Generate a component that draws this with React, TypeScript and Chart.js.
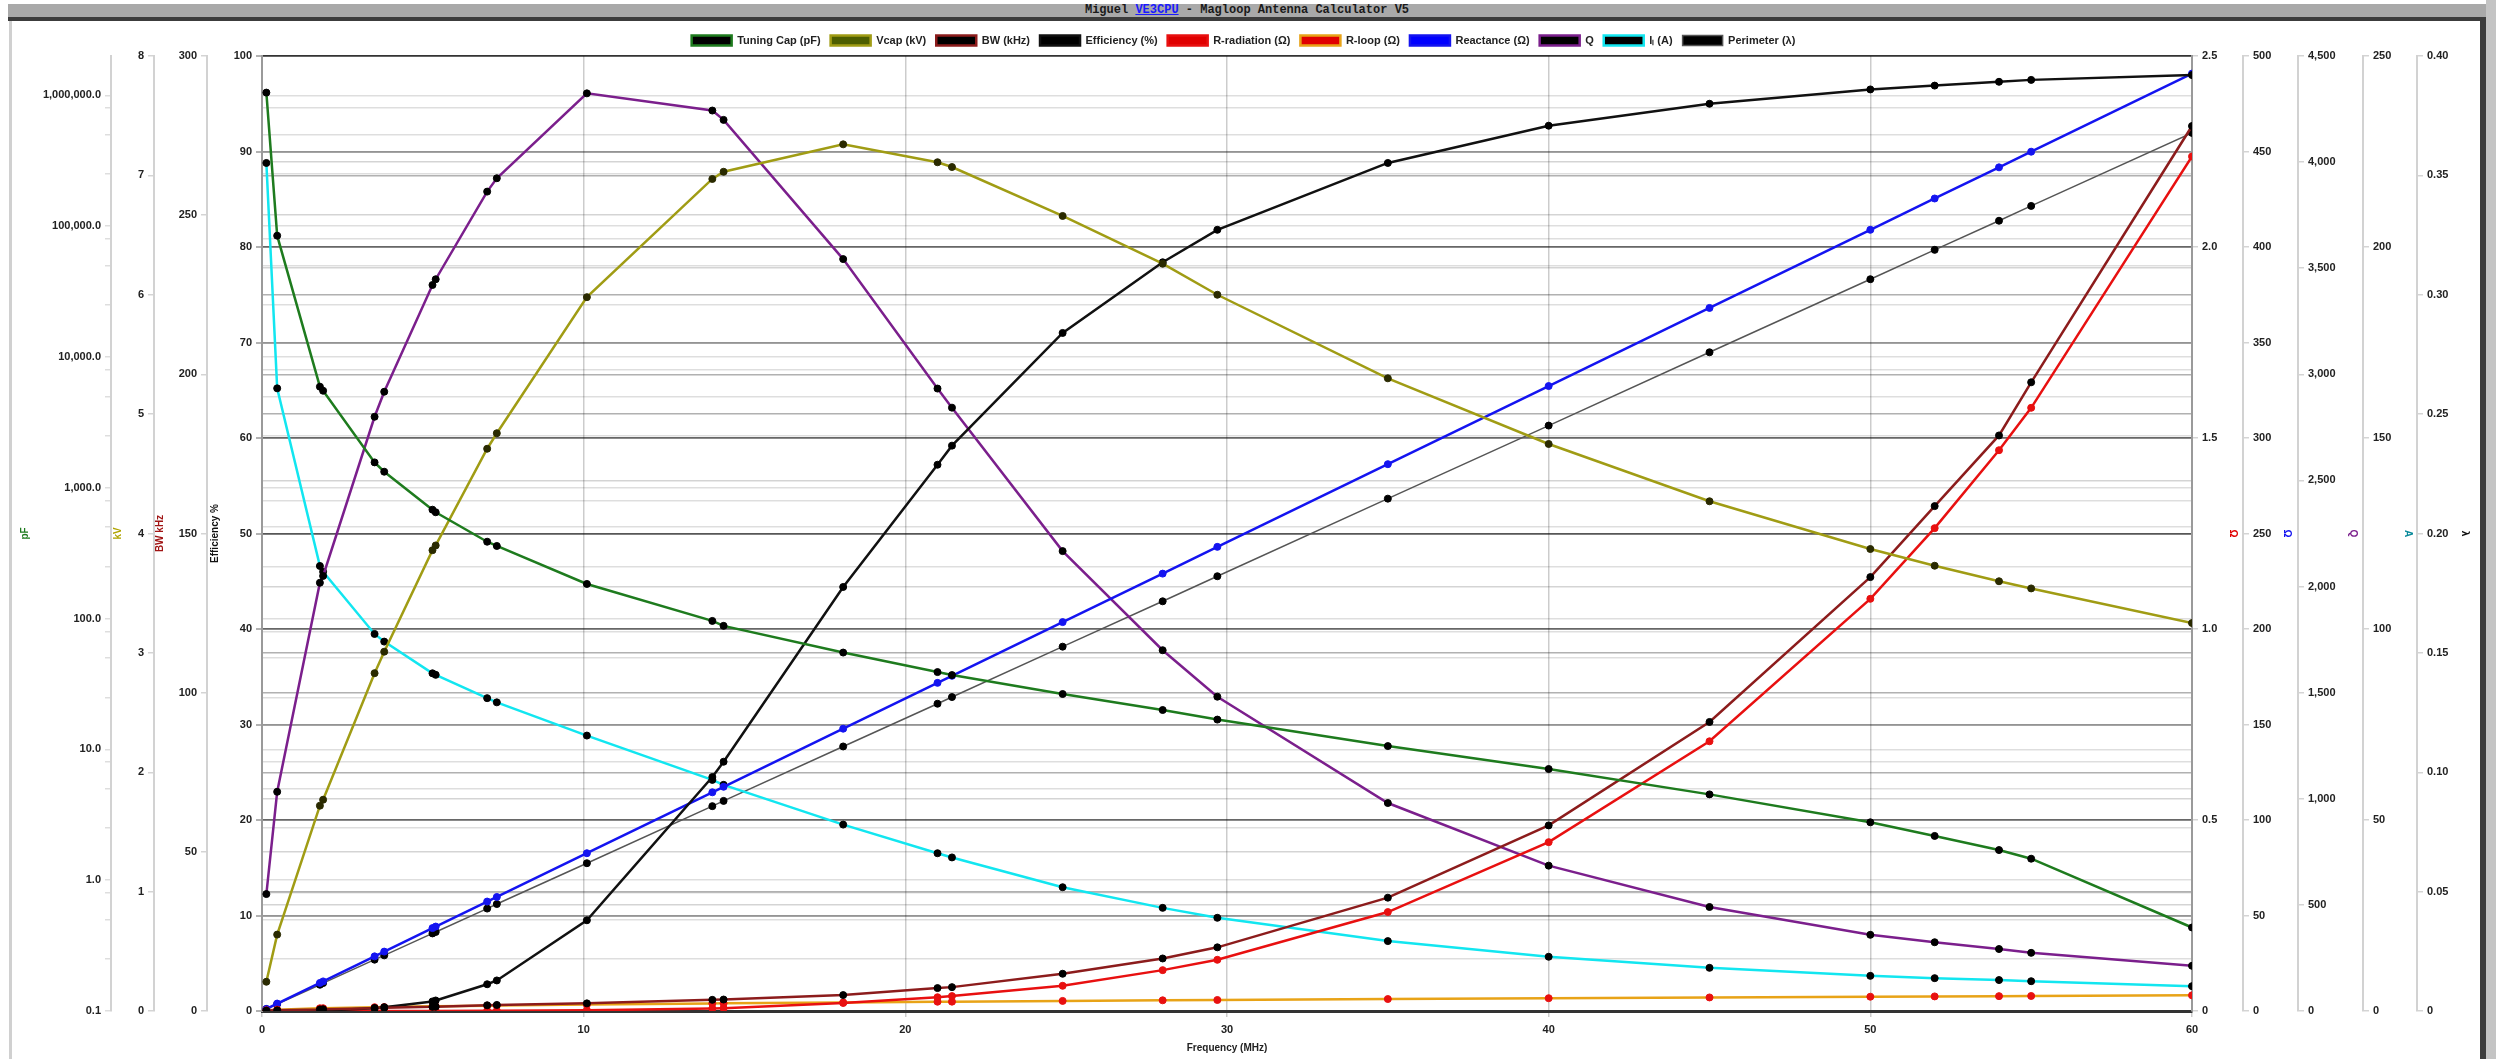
import React, { useEffect, useRef } from 'react';
import { Chart, registerables } from 'chart.js';

Chart.register(...registerables);

const frequencies = [0.1357, 0.472, 1.8, 1.9, 3.5, 3.8, 5.3, 5.4, 7.0, 7.3, 10.1, 14.0, 14.35, 18.068, 21.0, 21.45, 24.89, 28.0, 29.7, 35, 40, 45, 50, 52, 54, 55, 60];

const tuningCapPf = [1050000, 84600, 5930, 5520, 1564, 1327, 680, 650, 387, 359, 184, 96, 88, 55, 39, 37, 26.5, 20, 16.9, 10.6, 7.08, 4.53, 2.77, 2.18, 1.7, 1.46, 0.435];
const vcapKv = [0.245, 0.64, 1.72, 1.77, 2.83, 3.01, 3.86, 3.9, 4.71, 4.84, 5.98, 6.97, 7.03, 7.26, 7.11, 7.07, 6.66, 6.26, 6.0, 5.3, 4.75, 4.27, 3.87, 3.73, 3.6, 3.54, 3.25];
const bwKhz = [0.1, 0.2, 0.5, 0.55, 0.9, 1.0, 1.3, 1.35, 1.8, 1.9, 2.4, 3.5, 3.6, 5.0, 7.2, 7.5, 11.7, 16.5, 20.0, 35.6, 58.3, 90.8, 136.3, 158.6, 180.8, 197.5, 278];
const efficiencyPct = [0, 0.003, 0.03, 0.04, 0.3, 0.4, 1.0, 1.1, 2.8, 3.2, 9.5, 24.5, 26.1, 44.4, 57.2, 59.2, 71.0, 78.4, 81.8, 88.8, 92.7, 95.0, 96.5, 96.9, 97.3, 97.5, 98.0];
const rRadiation = [0, 0, 0.000002, 0.000002, 0.00003, 0.00004, 0.00014, 0.00015, 0.0004, 0.0005, 0.0018, 0.0066, 0.0073, 0.021, 0.036, 0.039, 0.066, 0.107, 0.134, 0.259, 0.442, 0.706, 1.079, 1.264, 1.468, 1.579, 2.237];
const rLoop = [0.002, 0.0036, 0.0071, 0.0073, 0.0099, 0.0103, 0.0122, 0.0123, 0.014, 0.0143, 0.0168, 0.0198, 0.02, 0.0225, 0.0243, 0.0245, 0.0264, 0.028, 0.0288, 0.0313, 0.0335, 0.0355, 0.0374, 0.0382, 0.0389, 0.0393, 0.041];
const reactance = [1.1, 3.9, 14.7, 15.5, 28.6, 31.1, 43.4, 44.2, 57.3, 59.7, 82.6, 114.5, 117.4, 147.8, 171.8, 175.5, 203.6, 229.0, 243.0, 286.3, 327.2, 368.1, 409.0, 425.4, 441.7, 449.9, 490.8];
const qFactor = [551, 1033, 2018, 2050, 2800, 2918, 3421, 3448, 3861, 3924, 4324, 4243, 4199, 3543, 2933, 2843, 2167, 1700, 1481, 980, 685, 490, 359, 324, 292, 274, 213];
const loopCurrent = [222, 163, 116.5, 115, 98.7, 96.7, 88.4, 88, 81.9, 80.8, 72.1, 60.5, 59.2, 48.8, 41.3, 40.2, 32.4, 27.0, 24.4, 18.3, 14.2, 11.3, 9.2, 8.6, 8.1, 7.8, 6.5];
const perimeterLambda = [0.0008, 0.0029, 0.011, 0.0117, 0.0215, 0.0233, 0.0325, 0.0331, 0.0429, 0.0448, 0.0619, 0.0858, 0.088, 0.1108, 0.1287, 0.1315, 0.1526, 0.1716, 0.1821, 0.2146, 0.2452, 0.2759, 0.3065, 0.3188, 0.331, 0.3372, 0.3678];

const capDecades = [0.1, 1, 10, 100, 1000, 10000, 100000, 1000000];
const capMinorFactors = [2.5, 5, 8];
const capMax = 2000000;

const FONT = "'Liberation Sans', Arial, sans-serif";

const isDecade = (v: number) => Math.abs(Math.log10(v) - Math.round(Math.log10(v))) < 1e-9;

export default function App() {
  const ref = useRef<HTMLCanvasElement>(null);

  useEffect(() => {
    const canvas = ref.current;
    if (!canvas) return;
    const tickFont = { family: FONT, size: 11, weight: 'bold' as const };
    const titleFont = { family: FONT, size: 10, weight: 'bold' as const };
    const gridColor = 'rgba(0,0,0,0.17)';

    const capTicks: number[] = [];
    capDecades.forEach((d) => {
      capTicks.push(d);
      capMinorFactors.forEach((f) => {
        if (d * f <= capMax) capTicks.push(d * f);
      });
    });

    const makeY = (
      position: string,
      weight: number,
      width: number,
      min: number,
      max: number,
      step: number,
      title: string,
      titleColor: string,
      titlePad: number,
      format: (v: number) => string,
      borderColor = '#d2d2d2',
      gColor = gridColor,
      gWidth = 1.5
    ) => ({
      type: 'linear',
      position,
      weight,
      min,
      max,
      afterFit: (s: any) => {
        s.width = width;
      },
      ticks: {
        stepSize: step,
        font: tickFont,
        color: '#222',
        padding: 4,
        autoSkip: false,
        callback: (v: any) => format(Number(v)),
      },
      grid: { color: gColor, lineWidth: gWidth, tickLength: 6, drawOnChartArea: true },
      border: { color: borderColor, width: 2 },
      title: { display: true, text: title, color: titleColor, font: titleFont, padding: { top: titlePad, bottom: 0 } },
    });

    const pts = (arr: number[]) => frequencies.map((f, i) => ({ x: f, y: arr[i] }));

    const ds = (
      label: string,
      arr: number[],
      axis: string,
      line: string,
      legendFill: string,
      pointFill: string,
      width = 2.5
    ) => ({
      label,
      data: pts(arr),
      yAxisID: axis,
      borderColor: line,
      backgroundColor: legendFill,
      borderWidth: width,
      pointRadius: 3.5,
      pointBorderWidth: 1,
      pointBackgroundColor: pointFill,
      pointBorderColor: pointFill,
      tension: 0,
      fill: false,
    });

    const chart = new Chart(canvas, {
      type: 'line',
      data: {
        datasets: [
          ds('Tuning Cap (pF)', tuningCapPf, 'yCap', '#1e7b1e', '#000000', '#000000'),
          ds('Vcap (kV)', vcapKv, 'yKv', '#a09c14', '#4d5e00', '#2a2a00'),
          ds('BW (kHz)', bwKhz, 'yBw', '#8c1c1c', '#000000', '#000000'),
          ds('Efficiency (%)', efficiencyPct, 'yEff', '#111111', '#000000', '#000000'),
          ds('R-radiation (Ω)', rRadiation, 'yR', '#e81010', '#e00000', '#e81010'),
          ds('R-loop (Ω)', rLoop, 'yR', '#e8a317', '#e00000', '#e81010'),
          ds('Reactance (Ω)', reactance, 'yX', '#1414f0', '#0000ff', '#1414f0'),
          ds('Q', qFactor, 'yQ', '#7b1f8c', '#000000', '#000000'),
          ds('Iₗ (A)', loopCurrent, 'yI', '#12e6f0', '#000000', '#000000'),
          ds('Perimeter (λ)', perimeterLambda, 'yL', '#555555', '#000000', '#000000', 1.5),
        ] as any,
      },
      options: {
        animation: false,
        responsive: true,
        maintainAspectRatio: false,
        events: [],
        layout: { padding: { left: 12, right: 21, top: 25, bottom: 2 } },
        plugins: {
          legend: {
            display: true,
            position: 'top',
            labels: {
              boxWidth: 40,
              boxHeight: 10,
              padding: 10,
              color: '#222',
              font: { family: FONT, size: 11, weight: 'bold' },
            },
          },
          tooltip: { enabled: false },
        },
        scales: {
          x: {
            type: 'linear',
            position: 'bottom',
            min: 0,
            max: 60,
            afterFit: (s: any) => {
              s.height = 46;
            },
            ticks: { stepSize: 10, font: tickFont, color: '#222', padding: 6 },
            grid: { color: 'rgba(0,0,0,0.2)', lineWidth: 1.5, tickLength: 6 },
            border: { color: '#333', width: 3 },
            title: { display: true, text: 'Frequency (MHz)', color: '#222', font: titleFont, padding: { top: 0, bottom: 3 } },
          },
          yCap: {
            type: 'logarithmic',
            position: 'left',
            weight: 4,
            min: 0.1,
            max: capMax,
            afterFit: (s: any) => {
              s.width = 99;
            },
            afterBuildTicks: (s: any) => {
              s.ticks = capTicks.map((v) => ({ value: v }));
            },
            ticks: {
              font: tickFont,
              color: '#222',
              padding: 4,
              autoSkip: false,
              callback: (v: any) =>
                isDecade(Number(v))
                  ? Number(v).toLocaleString('en-US', { minimumFractionDigits: 1, maximumFractionDigits: 1 })
                  : '',
            },
            grid: { color: 'rgba(0,0,0,0.13)', lineWidth: 1.5, tickLength: 6, drawOnChartArea: true },
            border: { color: '#d2d2d2', width: 2 },
            title: { display: true, text: 'pF', color: '#1e7b1e', font: titleFont, padding: { top: 7, bottom: 0 } },
          },
          yKv: makeY('left', 3, 43, 0, 8, 1, 'kV', '#b0a400', 1, (v) => String(v)),
          yBw: makeY('left', 2, 53, 0, 300, 50, 'BW kHz', '#a01414', 0, (v) => String(v)),
          yEff: makeY('left', 1, 55, 0, 100, 10, 'Efficiency %', '#111', 2, (v) => String(v), '#9a9a9a', 'rgba(0,0,0,0.3)', 2),
          yR: makeY('right', 1, 51, 0, 2.5, 0.5, 'Ω', '#e00000', 4, (v) => (v === 0 ? '0' : v.toFixed(1)), '#9a9a9a'),
          yX: makeY('right', 2, 55, 0, 500, 50, 'Ω', '#1414f0', 5, (v) => String(v)),
          yQ: makeY('right', 3, 65, 0, 4500, 500, 'Q', '#7b1f8c', 4, (v) => v.toLocaleString('en-US')),
          yI: makeY('right', 4, 54, 0, 250, 50, 'A', '#0a8a9a', 3, (v) => String(v)),
          yL: makeY('right', 5, 58, 0, 0.4, 0.05, 'λ', '#111', 4, (v) => (v === 0 ? '0' : v.toFixed(2))),
        } as any,
      },
    });

    return () => {
      chart.destroy();
    };
  }, []);

  return (
    <div style={{ position: 'fixed', left: 0, top: 0, width: 2496, height: 1059, background: '#fff', overflow: 'hidden' }}>
      <div
        style={{
          position: 'absolute',
          left: 8,
          top: 4,
          width: 2478,
          height: 13,
          background: '#a9a9a9',
          font: "bold 12px 'Liberation Mono', monospace",
          lineHeight: '13px',
          textAlign: 'center',
          color: '#1a1a1a',
          whiteSpace: 'nowrap',
        }}
      >
        Miguel <u style={{ color: '#1a1aff' }}>VE3CPU</u> - Magloop Antenna Calculator V5
      </div>
      <div style={{ position: 'absolute', left: 8, top: 17, width: 2478, height: 4, background: '#3c3c3c' }} />
      <div style={{ position: 'absolute', left: 9, top: 21, width: 3, height: 1038, background: '#d0d0d0' }} />
      <div style={{ position: 'absolute', left: 2480, top: 17, width: 6, height: 1042, background: '#3c3c3c' }} />
      <div style={{ position: 'absolute', left: 2486, top: 0, width: 10, height: 1059, background: '#c4c4c4' }} />
      <div style={{ position: 'absolute', left: 0, top: 0, width: 2496, height: 1059 }}>
        <canvas ref={ref} />
      </div>
    </div>
  );
}
